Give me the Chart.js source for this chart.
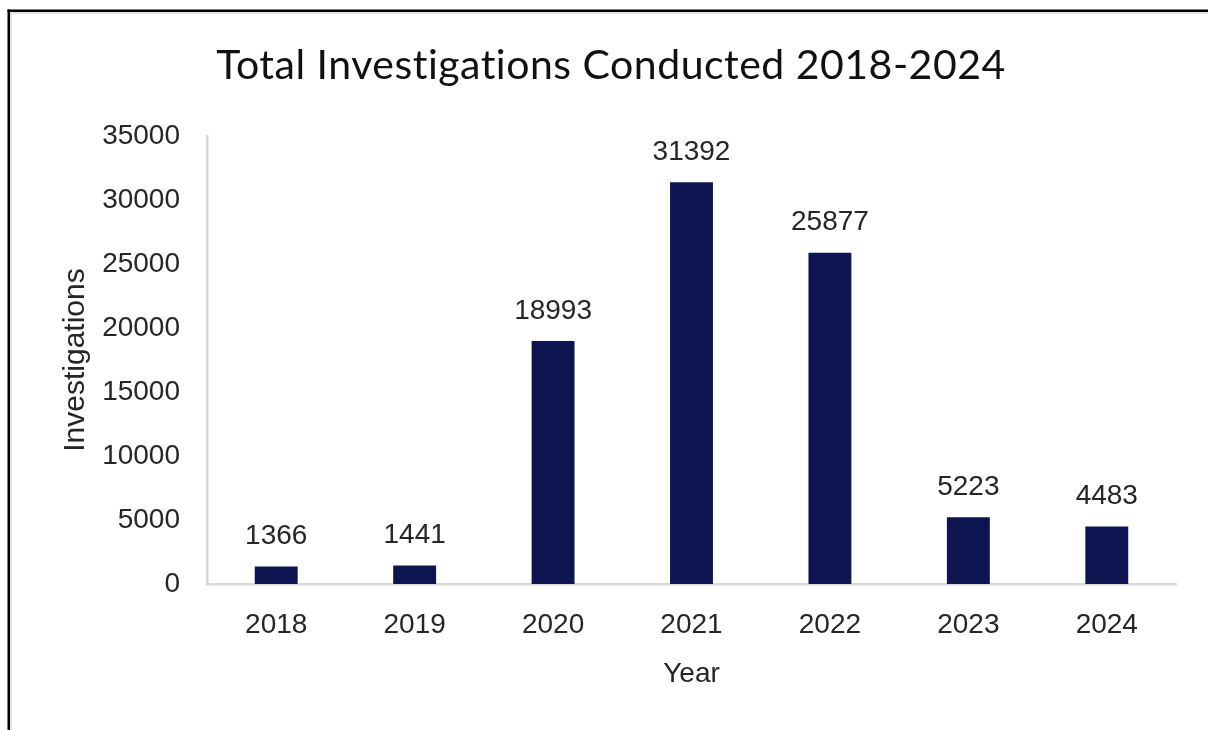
<!DOCTYPE html>
<html>
<head>
<meta charset="utf-8">
<title>Total Investigations Conducted 2018-2024</title>
<script src="https://cdn.jsdelivr.net/npm/chart.js@4.4.1/dist/chart.umd.min.js"></script>
<style>
  html, body { margin: 0; padding: 0; background: #ffffff; }
  #wrap { position: relative; width: 1208px; height: 730px; }
  canvas { display: block; }
</style>
</head>
<body>
<div id="wrap"><canvas id="chart" width="1208" height="730"></canvas></div>
<script>
// Yearly totals
const years = ['2018', '2019', '2020', '2021', '2022', '2023', '2024'];
const investigations = [1366, 1441, 18993, 31392, 25877, 5223, 4483];
const yTicks = [0, 5000, 10000, 15000, 20000, 25000, 30000, 35000];

const chartTitle = 'Total Investigations Conducted 2018-2024';
const xTitle = 'Year';
const yTitle = 'Investigations';

const barColor = '#0d1550';
const axisColor = '#d9d9d9';
const textColor = '#262626';
const labelFont = { family: '"Liberation Sans", Arial, sans-serif', size: 28 };

// Frame lines along the top and left edges, plus the heading
const framePlugin = {
  id: 'frame',
  beforeDraw(chart) {
    const ctx = chart.ctx;
    ctx.save();
    ctx.fillStyle = '#ffffff';
    ctx.fillRect(0, 0, chart.width, chart.height);
    ctx.fillStyle = '#e4e4e4';
    ctx.fillRect(10, 12, 2, chart.height - 12);
    ctx.fillRect(10, 12, chart.width - 10, 2);
    ctx.fillStyle = '#000000';
    ctx.fillRect(7.5, 9.5, 2.5, chart.height - 9.5);
    ctx.fillRect(7.5, 9.5, chart.width - 7.5, 2.5);

    ctx.font = '41px Lato, "Open Sans", sans-serif';
    ctx.letterSpacing = '0.5px';
    ctx.fillStyle = '#111111';
    ctx.textAlign = 'center';
    ctx.textBaseline = 'alphabetic';
    ctx.fillText(chartTitle, 611, 78.5);
    ctx.restore();
  }
};

// Value labels above each bar
const valueLabels = {
  id: 'valueLabels',
  afterDatasetsDraw(chart) {
    const ctx = chart.ctx;
    const meta = chart.getDatasetMeta(0);
    const data = chart.data.datasets[0].data;
    ctx.save();
    ctx.font = `${labelFont.size}px ${labelFont.family}`;
    ctx.fillStyle = textColor;
    ctx.textAlign = 'center';
    ctx.textBaseline = 'middle';
    meta.data.forEach((bar, i) => {
      ctx.fillText(String(data[i]), bar.x, bar.y - 30);
    });
    ctx.restore();
  }
};

new Chart(document.getElementById('chart'), {
  type: 'bar',
  data: {
    labels: years,
    datasets: [{
      data: investigations,
      backgroundColor: barColor,
      borderWidth: 0,
      barPercentage: 0.31,
      categoryPercentage: 1.0
    }]
  },
  options: {
    responsive: false,
    animation: false,
    devicePixelRatio: 1,
    layout: { padding: { top: 136, left: 50, right: 32, bottom: 35 } },
    plugins: {
      legend: { display: false },
      tooltip: { enabled: false },
      title: { display: false }
    },
    scales: {
      x: {
        grid: { display: false, drawTicks: false },
        border: { display: true, color: axisColor, width: 2.5 },
        ticks: { color: textColor, font: labelFont, padding: 24, maxRotation: 0 },
        title: {
          display: true,
          text: xTitle,
          color: textColor,
          font: { family: labelFont.family, size: 28, lineHeight: 1.2 },
          padding: { top: 4, bottom: 4 }
        },
        afterFit(scale) { scale.height = 111; }
      },
      y: {
        min: 0,
        max: 35000,
        afterBuildTicks(scale) { scale.ticks = yTicks.map(v => ({ value: v })); },
        grid: { display: false, drawTicks: false },
        border: { display: true, color: axisColor, width: 2.5 },
        ticks: { color: textColor, font: labelFont, padding: 27, callback: v => String(v) },
        title: {
          display: true,
          text: yTitle,
          color: textColor,
          font: { family: labelFont.family, size: 30, lineHeight: 1.2 },
          padding: { top: 8, bottom: 4 }
        },
        afterFit(scale) { scale.width = 157; }
      }
    }
  },
  plugins: [framePlugin, valueLabels]
});
</script>
</body>
</html>
